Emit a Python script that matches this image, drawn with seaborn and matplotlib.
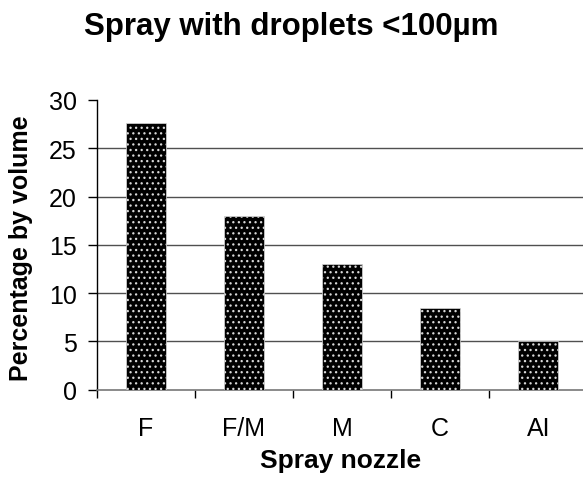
import pandas as pd
import seaborn as sns
import matplotlib.pyplot as plt

sns.set_theme(style="white")
plt.rcParams['font.family'] = ['Liberation Sans', 'DejaVu Sans']
plt.rcParams['hatch.linewidth'] = 0.9
plt.rcParams['text.color'] = 'black'
plt.rcParams['axes.labelcolor'] = 'black'
plt.rcParams['xtick.color'] = 'black'
plt.rcParams['ytick.color'] = 'black'

nozzles = ['F', 'F/M', 'M', 'C', 'AI']
pct_volume = [27.6, 18.0, 13.0, 8.5, 5.0]
yticks = [0, 5, 10, 15, 20, 25, 30]

df = pd.DataFrame({'nozzle': nozzles, 'pct': pct_volume})

fig = plt.figure(figsize=(5.83, 4.89), dpi=100)
ax = fig.add_axes([0.1659, 0.201, 0.8341, 0.5925])
sns.barplot(data=df, x='nozzle', y='pct', color='black', width=0.41,
            edgecolor='#d8d8d8', linewidth=0.5, ax=ax, zorder=3)
for p in ax.patches:
    p.set_hatch('...')
    p.set_facecolor('black')

ax.set_ylim(0, 30)
ax.set_xlim(-0.5, 4.455)
ax.set_yticks(yticks)
ax.set_yticklabels([str(t) for t in yticks], fontsize=18)
for t in yticks[1:-1]:
    ax.axhline(t, color='#505050', lw=1.0, zorder=1)

# category labels under bars, tick marks at category boundaries
ax.set_xticks(range(len(nozzles)))
ax.set_xticklabels(nozzles, fontsize=18)
ax.tick_params(axis='x', length=0, pad=19)
ax.set_xticks([i - 0.5 for i in range(len(nozzles))], minor=True)
ax.tick_params(axis='x', which='minor', length=6, width=1, color='black', direction='out', bottom=True)
ax.tick_params(axis='y', length=6.5, width=1, color='black', direction='out', left=True, pad=8)

for s in ['top', 'right']:
    ax.spines[s].set_visible(False)
ax.spines['left'].set_color('black')
ax.spines['left'].set_linewidth(1.0)
ax.spines['bottom'].set_color('#777777')
ax.spines['bottom'].set_linewidth(1.2)

ax.set_xlabel('Spray nozzle', fontsize=19, fontweight='bold', va='baseline')
ax.xaxis.set_label_coords(0.5013, -0.267)
ax.set_ylabel('Percentage by volume', fontsize=18, fontweight='bold', va='center')
ax.yaxis.set_label_coords(-0.1557, 0.4926)
fig.text(0.5, 0.928, 'Spray with droplets <100µm', ha='center', va='baseline',
         fontsize=22.5, fontweight='bold')

fig.savefig('out.png', dpi=100)
